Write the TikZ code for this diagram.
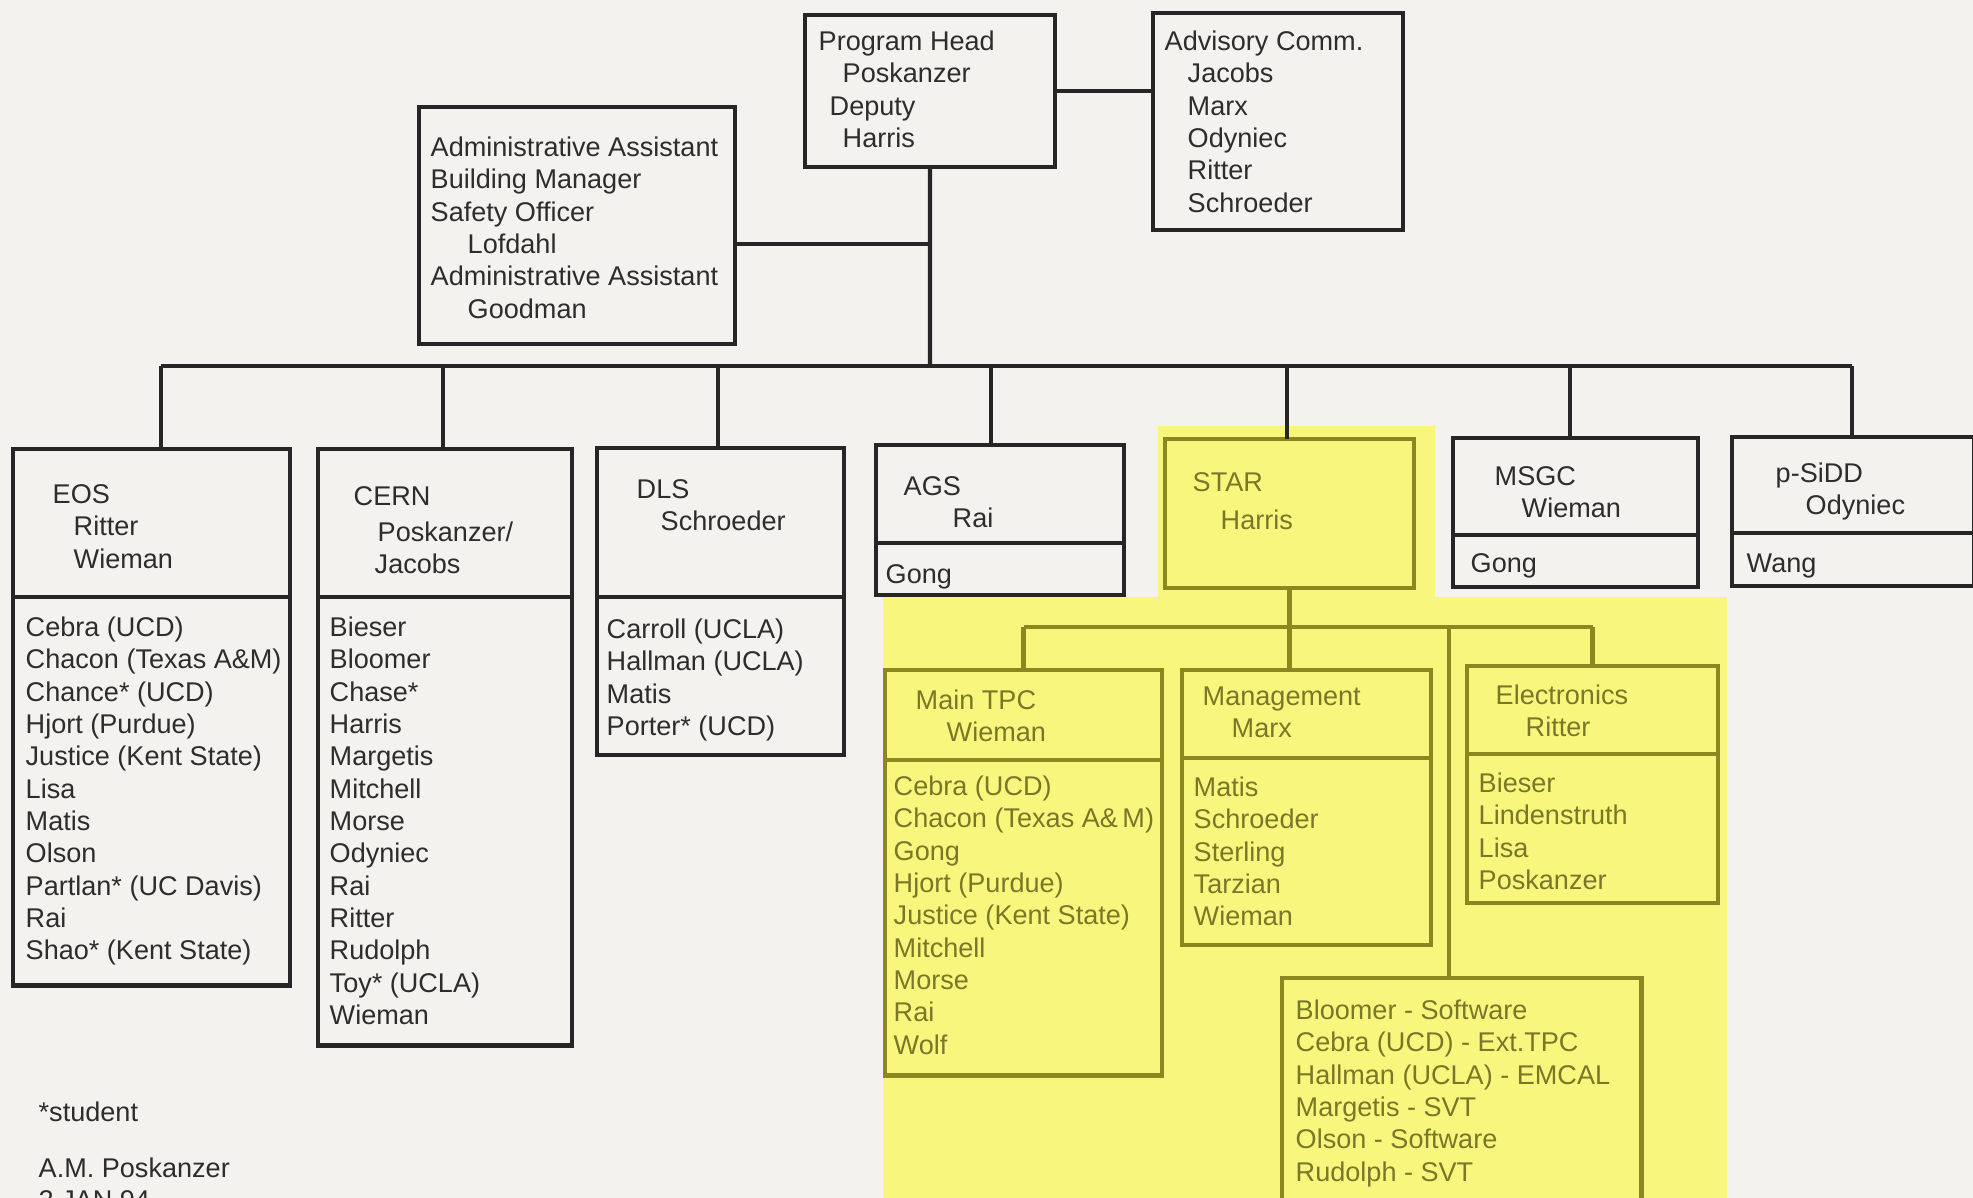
\documentclass[tikz,border=0pt]{standalone}
\usepackage{fontspec}
\setmainfont{Liberation Sans}
\usetikzlibrary{positioning}
\definecolor{paper}{RGB}{243,242,238}
\definecolor{ink}{RGB}{38,38,38}
\definecolor{inkt}{RGB}{45,45,45}
\definecolor{hlfill}{RGB}{249,246,125}
\definecolor{hlink}{RGB}{138,136,30}
\definecolor{hltext}{RGB}{122,120,40}
\newcommand{\indt}[1][0.24cm]{\hspace*{#1}}

\begin{document}
\begin{tikzpicture}[x=0.01cm,y=-0.01cm,
    bx/.style={draw=ink,line width=1.3pt,inner sep=0pt,outer sep=0pt,anchor=north west},
    sz/.style 2 args={minimum width=#1cm,minimum height=#2cm},
    tx/.style={anchor=north west,inner sep=0pt,align=left,text=inkt,
               font=\fontsize{7.7}{9.2}\selectfont},
    ln/.style={draw=ink,line width=1.2pt},
    hl/.style={draw=hlink},
    hlt/.style={text=hltext}]

  \useasboundingbox (0,0) rectangle (1973,1198);
  \fill[paper] (0,0) rectangle (1973,1198);
  \clip (0,0) rectangle (1973,1198);
  \fill[hlfill] (1158,426) rectangle (1435,598);
  \fill[hlfill] (883,597) rectangle (1727,1198);

  \node[bx,sz={2.50}{1.52}] (head) at (805,15) {};
  \node[bx,sz={2.50}{2.17}] (adv) at (1153,13) {};
  \node[bx,sz={3.16}{2.37}] (admin) at (419,107) {};

  \node[bx,sz={2.77}{1.48}] (eos) at (13,449) {};
  \node[bx,sz={2.77}{3.88}] (eosL) [below=0pt of eos] {};
  \node[bx,sz={2.54}{1.48}] (cern) at (318,449) {};
  \node[bx,sz={2.54}{4.48}] (cernL) [below=0pt of cern] {};
  \node[bx,sz={2.47}{1.49}] (dls) at (597,448) {};
  \node[bx,sz={2.47}{1.58}] (dlsL) [below=0pt of dls] {};
  \node[bx,sz={2.48}{0.98}] (ags) at (876,445) {};
  \node[bx,sz={2.48}{0.52}] (agsL) [below=0pt of ags] {};
  \node[bx,hl,sz={2.49}{1.49}] (star) at (1165,439) {};
  \node[bx,sz={2.45}{0.97}] (msgc) at (1453,438) {};
  \node[bx,sz={2.45}{0.52}] (msgcL) [below=0pt of msgc] {};
  \node[bx,sz={2.42}{0.96}] (psidd) at (1732,437) {};
  \node[bx,sz={2.42}{0.53}] (psiddL) [below=0pt of psidd] {};

  \node[bx,hl,sz={2.77}{0.90}] (tpc) at (885,670) {};
  \node[bx,hl,sz={2.77}{3.15}] (tpcL) [below=0pt of tpc] {};
  \node[bx,hl,sz={2.49}{0.88}] (mgmt) at (1182,670) {};
  \node[bx,hl,sz={2.49}{1.87}] (mgmtL) [below=0pt of mgmt] {};
  \node[bx,hl,sz={2.51}{0.88}] (elec) at (1467,666) {};
  \node[bx,hl,sz={2.51}{1.49}] (elecL) [below=0pt of elec] {};
  \node[bx,hl,sz={3.59}{2.40}] (roles) at (1282,978) {};

  \node[tx] (headT) at (818,30) {Program Head\\\indt Poskanzer\\\indt[0.11cm]Deputy\\\indt Harris};
  \node[tx] (advT) at (1164,30) {Advisory Comm.\\\indt[0.23cm]Jacobs\\\indt[0.23cm]Marx\\
    \indt[0.23cm]Odyniec\\\indt[0.23cm]Ritter\\\indt[0.23cm]Schroeder};
  \node[tx] (adminT) at (430,136) {Administrative Assistant\\Building Manager\\Safety Officer\\
    \indt[0.37cm]Lofdahl\\Administrative Assistant\\\indt[0.37cm]Goodman};

  \node[tx] (eosT) at (52,484) {EOS\\\indt[0.21cm]Ritter\\\indt[0.21cm]Wieman};
  \node[tx] (eosLT) at (25,616) {Cebra (UCD)\\Chacon (Texas A\&M)\\Chance* (UCD)\\Hjort (Purdue)\\
    Justice (Kent State)\\Lisa\\Matis\\Olson\\Partlan* (UC Davis)\\Rai\\Shao* (Kent State)};
  \node[tx] (cernT) at (353,486) {CERN\\[1pt]\indt Poskanzer/\\\indt[0.21cm]Jacobs};
  \node[tx] (cernLT) at (329,616) {Bieser\\Bloomer\\Chase*\\Harris\\Margetis\\Mitchell\\Morse\\
    Odyniec\\Rai\\Ritter\\Rudolph\\Toy* (UCLA)\\Wieman};
  \node[tx] (dlsT) at (636,479) {DLS\\\indt Schroeder};
  \node[tx] (dlsLT) at (606,618) {Carroll (UCLA)\\Hallman (UCLA)\\Matis\\Porter* (UCD)};
  \node[tx] (agsT) at (903,476) {AGS\\\indt[0.49cm]Rai};
  \node[tx] (agsLT) at (885,564) {Gong};
  \node[tx,hlt] (starT) at (1192,472) {STAR\\[1.5pt]\indt[0.28cm]Harris};
  \node[tx] (msgcT) at (1494,466) {MSGC\\\indt[0.27cm]Wieman};
  \node[tx] (msgcLT) at (1470,553) {Gong};
  \node[tx] (psiddT) at (1775,462) {p-SiDD\\\indt[0.30cm]Odyniec};
  \node[tx] (psiddLT) at (1746,553) {Wang};

  \node[tx,hlt] (tpcT) at (915,689) {Main TPC\\\indt[0.31cm]Wieman};
  \node[tx,hlt] (tpcLT) at (893,775) {Cebra (UCD)\\Chacon (Texas A\&\,M)\\Gong\\Hjort (Purdue)\\
    Justice (Kent State)\\Mitchell\\Morse\\Rai\\Wolf};
  \node[tx,hlt] (mgmtT) at (1202,686) {Management\\\indt[0.29cm]Marx};
  \node[tx,hlt] (mgmtLT) at (1193,776) {Matis\\Schroeder\\Sterling\\Tarzian\\Wieman};
  \node[tx,hlt] (elecT) at (1495,684) {Electronics\\\indt[0.30cm]Ritter};
  \node[tx,hlt] (elecLT) at (1478,772) {Bieser\\Lindenstruth\\Lisa\\Poskanzer};
  \node[tx,hlt] (rolesT) at (1295,999) {Bloomer - Software\\Cebra (UCD) - Ext.TPC\\
    Hallman (UCLA) - EMCAL\\Margetis - SVT\\Olson - Software\\Rudolph - SVT};

  \node[tx] (note) at (38,1101) {*student};
  \node[tx] (sig) at (38,1157) {A.M. Poskanzer\\2 JAN 94};

  \coordinate (bus) at (930,366);
  \coordinate (sbus) at (1292,627);
  \coordinate (tap) at (1449,627);

  \draw[ln] (head.east) -- (head.east -| adv.west);
  \draw[ln] (head.south) -- (bus);
  \draw[ln] (admin.east |- 0,244) -- (head.south |- 0,244);
  \draw[ln] (161,0 |- bus) -- (1852,0 |- bus);
  \draw[ln] (161,0 |- bus) -- (161,0 |- eos.north)
            (443,0 |- bus) -- (443,0 |- cern.north)
            (718,0 |- bus) -- (718,0 |- dls.north)
            (991,0 |- bus) -- (991,0 |- ags.north)
            (1287,0 |- bus) -- (1287,0 |- star.north)
            (1570,0 |- bus) -- (1570,0 |- msgc.north)
            (1852,0 |- bus) -- (1852,0 |- psidd.north);

  \draw[ln,hl] (star.south) -- (star.south |- mgmt.north);
  \draw[ln,hl] (tpc.north |- sbus) -- (elec.north |- sbus);
  \draw[ln,hl] (tpc.north |- sbus) -- (tpc.north)
               (elec.north |- sbus) -- (elec.north);
  \draw[ln,hl] (tap) -- (tap |- roles.north);
\end{tikzpicture}
\end{document}
